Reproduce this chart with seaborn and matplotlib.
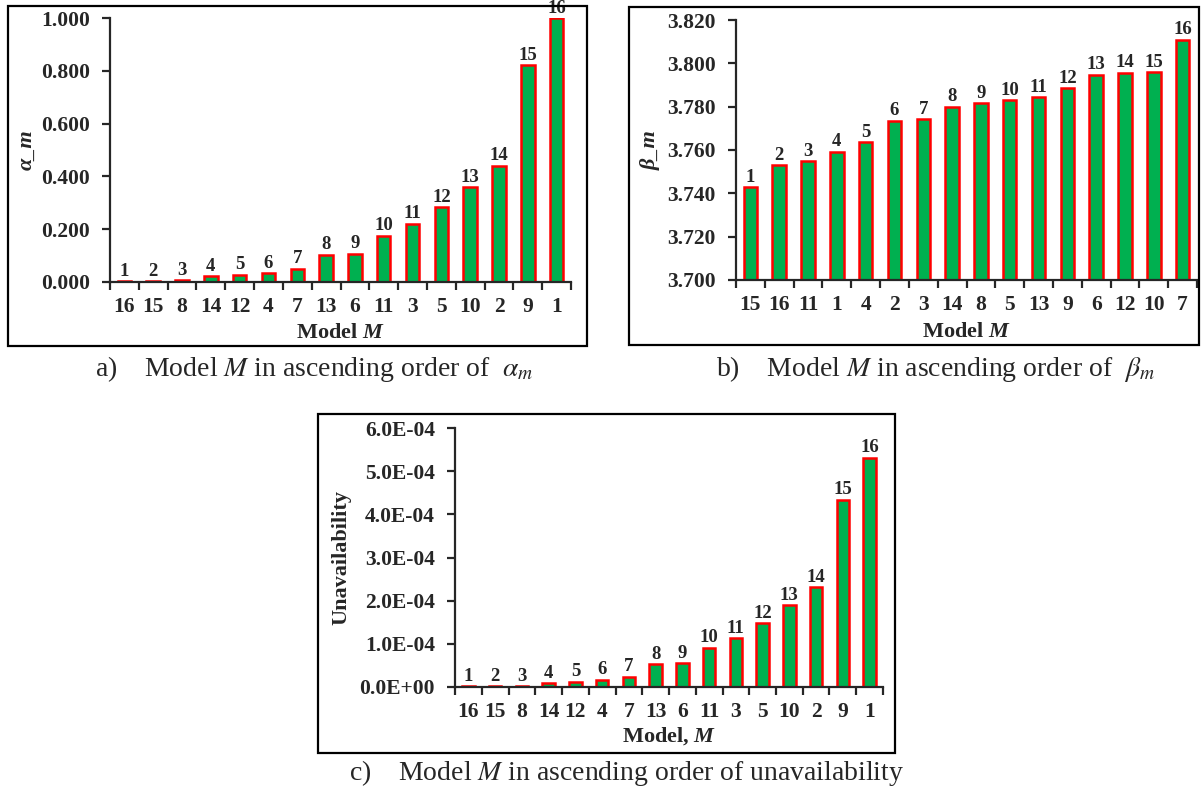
import numpy as np
import pandas as pd
import seaborn as sns
import matplotlib.pyplot as plt
from matplotlib.patches import Rectangle
from matplotlib.ticker import FuncFormatter

# Data
models_a = ['16', '15', '8', '14', '12', '4', '7', '13', '6', '11', '3', '5', '10', '2', '9', '1']
alpha_m = [0.004, 0.004, 0.007, 0.023, 0.027, 0.033, 0.051, 0.103, 0.107, 0.175,
           0.221, 0.284, 0.359, 0.440, 0.821, 1.000]

models_b = ['15', '16', '11', '1', '4', '2', '3', '14', '8', '5', '13', '9', '6', '12', '10', '7']
beta_m = [3.7428, 3.7531, 3.7549, 3.7592, 3.7635, 3.7735, 3.7743, 3.7800, 3.7817, 3.7829,
          3.7845, 3.7886, 3.7948, 3.7957, 3.7960, 3.8109]

models_c = ['16', '15', '8', '14', '12', '4', '7', '13', '6', '11', '3', '5', '10', '2', '9', '1']
unavail = [2.3e-6, 2.3e-6, 2.5e-6, 9.2e-6, 1.23e-5, 1.69e-5, 2.38e-5, 5.22e-5, 5.45e-5, 9.14e-5,
           1.129e-4, 1.483e-4, 1.898e-4, 2.312e-4, 4.34e-4, 5.31e-4]

ranks = [str(i) for i in range(1, 17)]

GREEN = '#00B050'
RED = '#FF0000'

sns.set_style('ticks')
plt.rcParams['font.family'] = ['Liberation Serif', 'DejaVu Serif']
plt.rcParams['mathtext.fontset'] = 'custom'
plt.rcParams['mathtext.rm'] = 'Liberation Serif:bold'
plt.rcParams['mathtext.it'] = 'Liberation Serif:italic:bold'
plt.rcParams['mathtext.bf'] = 'Liberation Serif:bold'

W, H = 1201, 789
fig = plt.figure(figsize=(W / 100, H / 100), dpi=100)


def px_axes(x0, x1, ytop, ybot):
    return fig.add_axes([x0 / W, 1 - ybot / H, (x1 - x0) / W, (ybot - ytop) / H])


def box(x0, x1, ytop, ybot):
    fig.add_artist(Rectangle((x0 / W, 1 - ybot / H), (x1 - x0) / W, (ybot - ytop) / H,
                             transform=fig.transFigure, fill=False, lw=1.6, ec='black'))


def draw(ax, models, values, ylim, yticks, fmt, ylabel, xlabel, ylab_x, xlab_y):
    df = pd.DataFrame({'model': models, 'value': values})
    sns.barplot(data=df, x='model', y='value', order=models, ax=ax, color=GREEN,
                edgecolor=RED, linewidth=1.8, width=0.47, saturation=1)
    ax.bar_label(ax.containers[0], labels=ranks, fontsize=13.5, fontweight='bold',
                 padding=1, clip_on=False)
    ax.set_xlim(-0.5, len(models) - 0.5)
    ax.set_ylim(*ylim)
    ax.set_yticks(yticks)
    ax.yaxis.set_major_formatter(FuncFormatter(fmt))
    ax.set_xticks(np.arange(-0.5, len(models), 1), minor=True)
    ax.tick_params(axis='x', which='major', length=0, pad=11, labelsize=15.5)
    ax.tick_params(axis='x', which='minor', length=6, width=1.6, direction='out')
    ax.tick_params(axis='y', length=6, width=1.6, direction='out', pad=8.5, labelsize=15.5)
    for lab in ax.get_xticklabels() + ax.get_yticklabels():
        lab.set_fontweight('bold')
    for s in ['left', 'bottom']:
        ax.spines[s].set_linewidth(1.6)
    sns.despine(ax=ax)
    ax.set_ylabel(ylabel, fontsize=16, fontweight='bold')
    ax.set_xlabel(xlabel, fontsize=16, fontweight='bold')
    ax.yaxis.set_label_coords(ylab_x, 0.5)
    ax.xaxis.set_label_coords(0.5, xlab_y)


# a) alpha_m
ax_a = px_axes(110, 571, 18, 282)
draw(ax_a, models_a, alpha_m, (0, 1.0), np.arange(0, 1.01, 0.2),
     lambda v, p: f'{v:.3f}', 'α_m', r'Model $M$', -0.16, -0.155)
ax_a.yaxis.label.set_fontstyle('italic')

# b) beta_m
ax_b = px_axes(736, 1197, 20, 280)
draw(ax_b, models_b, beta_m, (3.70, 3.82), np.arange(3.70, 3.8201, 0.02),
     lambda v, p: f'{v:.3f}', 'β_m', r'Model $M$', -0.163, -0.163)
ax_b.yaxis.label.set_fontstyle('italic')

# c) unavailability
ax_c = px_axes(455, 883, 428, 687)
draw(ax_c, models_c, unavail, (0, 6e-4), np.arange(0, 6.01e-4, 1e-4),
     lambda v, p: f'{v:.1E}', 'Unavailability', r'Model, $M$', -0.243, -0.148)

box(8, 587, 6, 346)
box(629, 1199, 7, 345)
box(318, 895, 414, 753)

cap_kw = dict(fontsize=20, va='center', ha='left', math_fontfamily='stix')
fig.text(95 / W, 1 - 369 / H, r'a)    Model $\mathit{M}$ in ascending order of  $\alpha_m$', **cap_kw)
fig.text(716 / W, 1 - 369 / H, r'b)    Model $\mathit{M}$ in ascending order of  $\beta_m$', **cap_kw)
fig.text(349 / W, 1 - 773 / H, r'c)    Model $\mathit{M}$ in ascending order of unavailability', **cap_kw)

fig.savefig('out.png', dpi=100)
